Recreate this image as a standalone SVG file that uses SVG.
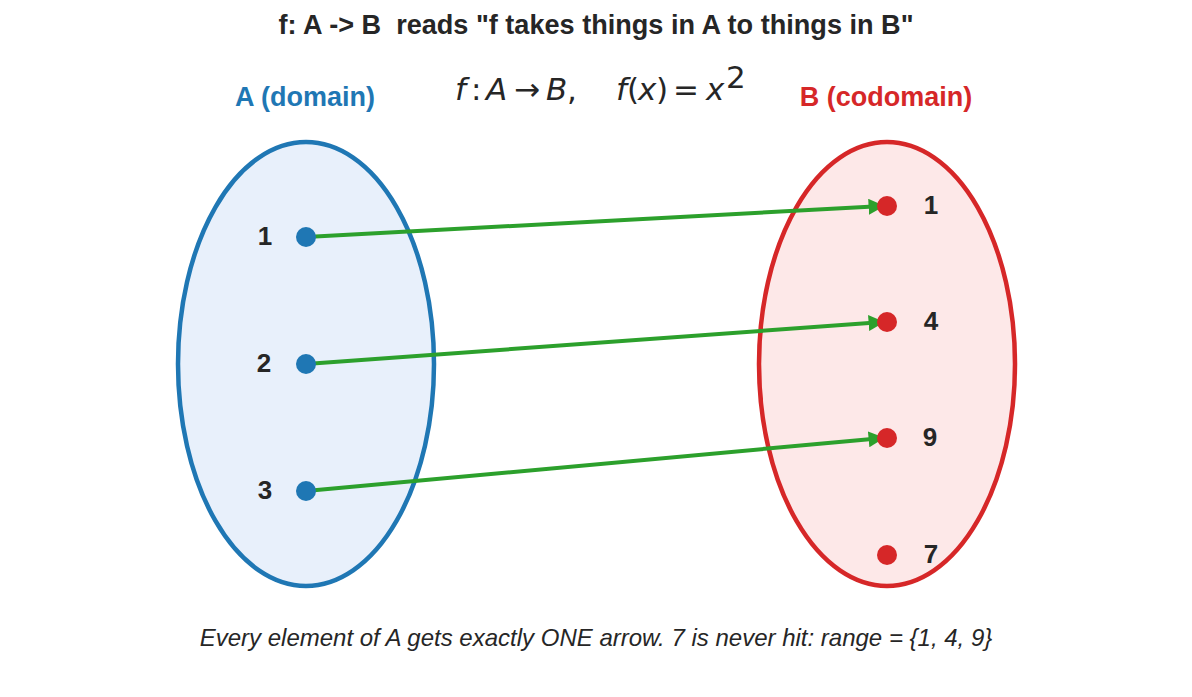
<svg xmlns="http://www.w3.org/2000/svg" width="1192" height="697" viewBox="0 0 1192 697">
<style>
.title{font-family:"Liberation Sans",Arial,sans-serif;font-weight:bold;font-size:27px;fill:#262626;text-anchor:middle;white-space:pre}
.math{font-family:"DejaVu Sans",sans-serif;font-style:italic;font-size:31px;fill:#262626}
.mathr{font-family:"DejaVu Sans",sans-serif;font-style:normal;font-size:31px;fill:#262626}
.set{font-family:"Liberation Sans",Arial,sans-serif;font-weight:bold;font-size:27px;text-anchor:middle}
.num{font-family:"Liberation Sans",Arial,sans-serif;font-weight:bold;font-size:26px;fill:#262626;text-anchor:middle}
.foot{font-family:"Liberation Sans",Arial,sans-serif;font-style:italic;font-size:24px;fill:#262626;text-anchor:middle}
.arrow{stroke:#2ca02c;stroke-width:4;fill:none;marker-end:url(#ah)}
</style>
<defs>
<marker id="ah" viewBox="0 0 10 10" refX="9" refY="5" markerWidth="4" markerHeight="4" orient="auto" markerUnits="strokeWidth">
<path d="M0,0 L10,5 L0,10 z" fill="#2ca02c"/>
</marker>
</defs>
<rect width="1192" height="697" fill="#ffffff"/>
<text class="title" x="596" y="34" textLength="635" lengthAdjust="spacingAndGlyphs" xml:space="preserve">f: A -&gt; B  reads "f takes things in A to things in B"</text>
<g id="formula">
<text class="math" x="455" y="100">f</text>
<text class="mathr" x="471" y="100">:</text>
<text class="math" x="486" y="100">A</text>
<text class="mathr" x="514" y="100">→</text>
<text class="math" x="546" y="100">B</text>
<text class="mathr" x="567" y="100">,</text>
<text class="math" x="616" y="100">f</text>
<text class="mathr" x="627" y="100">(</text>
<text class="math" x="638" y="100">x</text>
<text class="mathr" x="656" y="100">)</text>
<text class="mathr" x="673" y="100">=</text>
<text class="math" x="706" y="100">x</text>
<text class="mathr" x="726" y="88" font-size="21">2</text>
</g>
<text class="set" x="305" y="106" fill="#1f77b4">A (domain)</text>
<text class="set" x="886" y="106" fill="#d62728">B (codomain)</text>
<g id="setA">
<ellipse cx="306" cy="364" rx="128" ry="222" fill="#e8f0fb" stroke="#1f77b4" stroke-width="4.5"/>
</g>
<g id="setB">
<ellipse cx="887" cy="364" rx="128" ry="222" fill="#fde8e8" stroke="#d62728" stroke-width="4.5"/>
</g>
<g id="connectors">
<line class="arrow" x1="306" y1="237" x2="883" y2="206"/>
<line class="arrow" x1="306" y1="364" x2="883" y2="322"/>
<line class="arrow" x1="306" y1="491" x2="883" y2="438"/>
</g>
<g id="a1"><circle cx="306" cy="237" r="10" fill="#1f77b4"/><text class="num" x="265" y="245">1</text></g>
<g id="a2"><circle cx="306" cy="364" r="10" fill="#1f77b4"/><text class="num" x="264" y="372">2</text></g>
<g id="a3"><circle cx="306" cy="491" r="10" fill="#1f77b4"/><text class="num" x="265" y="499">3</text></g>
<g id="b1"><circle cx="887" cy="206" r="10" fill="#d62728"/><text class="num" x="931" y="214">1</text></g>
<g id="b4"><circle cx="887" cy="322" r="10" fill="#d62728"/><text class="num" x="931" y="330">4</text></g>
<g id="b9"><circle cx="887" cy="438" r="10" fill="#d62728"/><text class="num" x="930" y="446">9</text></g>
<g id="b7"><circle cx="887" cy="555" r="10" fill="#d62728"/><text class="num" x="931" y="563">7</text></g>
<text class="foot" x="596" y="646">Every element of A gets exactly ONE arrow. 7 is never hit: range = {1, 4, 9}</text>
</svg>
